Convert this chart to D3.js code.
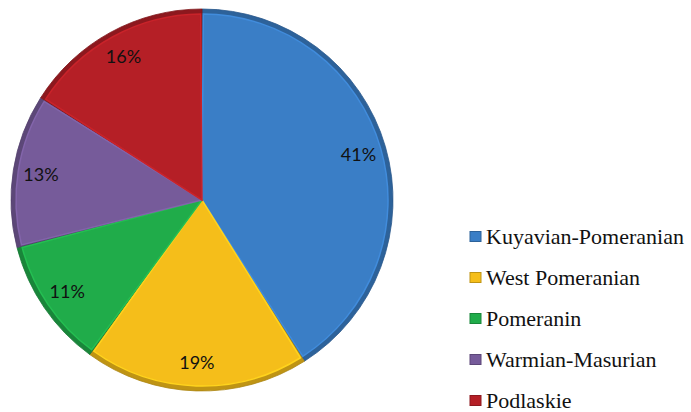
<!DOCTYPE html>
<html>
<head>
<meta charset="utf-8">
<title>Share by region</title>
<script src="https://cdn.jsdelivr.net/npm/d3@7"></script>
<style>
  body { margin: 0; background: #fff; }
  svg { display: block; }
</style>
</head>
<body>
<div id="chart"></div>
<script>
// data, clockwise from 12 o'clock
var regions = ['Kuyavian-Pomeranian', 'West Pomeranian', 'Pomeranin', 'Warmian-Masurian', 'Podlaskie'];
var shares = [41, 19, 11, 13, 16];
var colors = ['#3a7ec6', '#f5be1a', '#20ac4a', '#765b9a', '#b51f26'];

var width = 691, height = 412;
var cx = 202, cy = 200, radius = 191;

var svg = d3.select('#chart').append('svg')
  .attr('width', width)
  .attr('height', height);

var pie = d3.pie().sort(null).value(function(d){ return d; });
var arcs = pie(shares);

var outer = d3.arc().innerRadius(0).outerRadius(radius);
var inner = d3.arc().innerRadius(0).outerRadius(radius - 5).padAngle(0.014).padRadius(radius);
var labelArc = d3.arc().innerRadius(163).outerRadius(163);

var g = svg.append('g').attr('transform', 'translate(' + cx + ',' + cy + ')');

// dark rim of each slice (bevel look)
g.selectAll('path.rim')
  .data(arcs).enter()
  .append('path').attr('class', 'rim')
  .attr('d', outer)
  .attr('fill', function(d, i){ return d3.color(colors[i]).darker(0.7); })
  .attr('stroke', function(d, i){ return d3.color(colors[i]).darker(1); })
  .attr('stroke-width', 0.8);

g.selectAll('path.face')
  .data(arcs).enter()
  .append('path').attr('class', 'face')
  .attr('d', inner)
  .attr('fill', function(d, i){ return colors[i]; })
  .attr('stroke', function(d, i){ return d3.color(colors[i]).brighter(0.3); })
  .attr('stroke-width', 1.5);

g.selectAll('text.pct')
  .data(arcs).enter()
  .append('text').attr('class', 'pct')
  .attr('transform', function(d){ return 'translate(' + labelArc.centroid(d) + ')'; })
  .attr('text-anchor', 'middle')
  .attr('dy', '0.35em')
  .attr('font-family', 'Lato, "Open Sans", sans-serif')
  .attr('font-size', 18)
  .attr('fill', '#111')
  .text(function(d){ return d.data + '%'; });

// legend
var legY = d3.scaleBand().domain(regions).range([216, 421]);

var leg = svg.append('g').selectAll('g')
  .data(regions).enter()
  .append('g')
  .attr('transform', function(d){ return 'translate(470,' + (legY(d) + legY.bandwidth() / 2) + ')'; });

leg.append('rect')
  .attr('x', 0).attr('y', -5)
  .attr('width', 11).attr('height', 10)
  .attr('fill', function(d, i){ return colors[i]; })
  .attr('stroke', function(d, i){ return d3.color(colors[i]).darker(0.7); })
  .attr('stroke-width', 1);

leg.append('text')
  .attr('x', 16)
  .attr('dy', '0.35em')
  .attr('font-family', '"Liberation Serif", "DejaVu Serif", "Times New Roman", serif')
  .attr('font-size', 22)
  .attr('fill', '#111')
  .text(function(d){ return d; });
</script>
</body>
</html>
